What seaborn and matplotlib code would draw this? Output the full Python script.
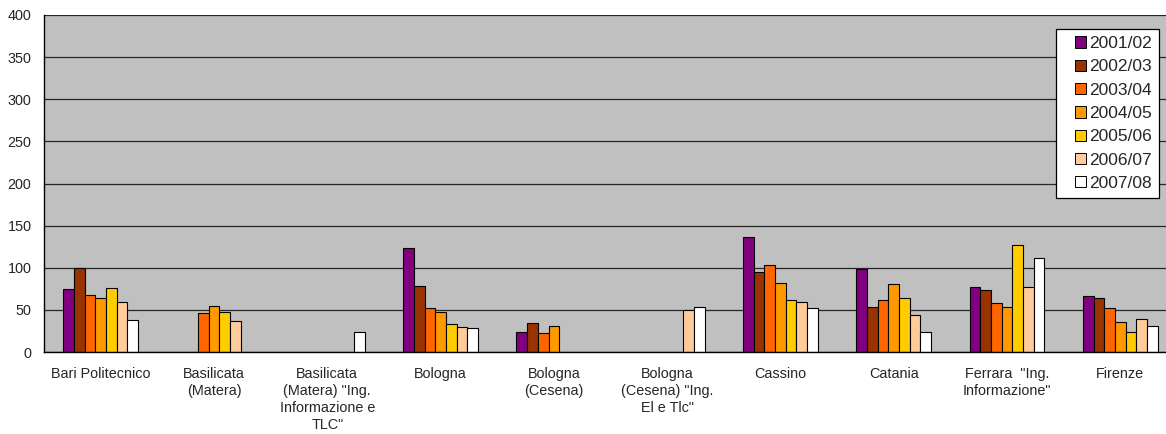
import numpy as np
import pandas as pd
import matplotlib
matplotlib.use("Agg")
import matplotlib.pyplot as plt
from matplotlib.patches import Rectangle, Patch
from matplotlib.legend_handler import HandlerPatch
import seaborn as sns

categories = [
    "Bari Politecnico",
    "Basilicata\n(Matera)",
    "Basilicata\n(Matera) \"Ing.\nInformazione e\nTLC\"",
    "Bologna",
    "Bologna\n(Cesena)",
    "Bologna\n(Cesena) \"Ing.\nEl e Tlc\"",
    "Cassino",
    "Catania",
    "Ferrara  \"Ing.\nInformazione\"",
    "Firenze",
]
years = ["2001/02", "2002/03", "2003/04", "2004/05", "2005/06", "2006/07", "2007/08"]
nan = np.nan
v_2001_02 = [75, nan, nan, 124, 24, nan, 137, 99, 77, 66]
v_2002_03 = [100, nan, nan, 78, 34, nan, 95, 54, 74, 64]
v_2003_04 = [68, 46, nan, 52, 23, nan, 103, 62, 58, 52]
v_2004_05 = [64, 55, nan, 47, 31, nan, 82, 81, 53, 36]
v_2005_06 = [76, 48, nan, 33, nan, nan, 62, 64, 127, 24]
v_2006_07 = [59, 37, nan, 30, nan, 50, 59, 44, 77, 39]
v_2007_08 = [38, nan, 24, 29, nan, 53, 52, 24, 111, 31]
series = [v_2001_02, v_2002_03, v_2003_04, v_2004_05, v_2005_06, v_2006_07, v_2007_08]
colors = ["#800080", "#993300", "#FF6600", "#FF9900", "#FFCC00", "#FFCC99", "#FFFFFF"]

rows = []
for y, vals in zip(years, series):
    for c, v in zip(categories, vals):
        rows.append({"cat": c, "year": y, "val": v})
df = pd.DataFrame(rows)

sns.set_style("white")
plt.rcParams["font.family"] = ["Liberation Sans", "DejaVu Sans"]

W, H = 1166, 434
fig = plt.figure(figsize=(W / 100, H / 100), dpi=100)
ax = fig.add_axes([44 / W, (H - 352) / H, 1133 / W, 337 / H])
ax.set_facecolor("#C0C0C0")

sns.barplot(data=df, x="cat", y="val", hue="year", order=categories, hue_order=years,
            palette=colors, width=0.66, edgecolor="black", linewidth=0.8,
            ax=ax, legend=False, saturation=1)

ax.set_xlim(-0.5, len(categories) - 0.5)
ax.set_ylim(0, 400)
ax.set_yticks(range(0, 401, 50))
ax.yaxis.grid(True, color="#262626", linewidth=0.9)
ax.set_axisbelow(True)
ax.set_xlabel("")
ax.set_ylabel("")
for s in ["top", "right"]:
    ax.spines[s].set_visible(False)
ax.spines["left"].set_color("black")
ax.spines["bottom"].set_color("black")
ax.spines["left"].set_linewidth(1.0)
ax.spines["bottom"].set_linewidth(1.0)

ax.set_xticks(range(len(categories)))
ax.set_xticklabels(categories, fontsize=10.4, linespacing=1.27, va="top")
ax.tick_params(axis="x", which="major", length=0, pad=11)
ax.set_xticks(np.arange(-0.5, len(categories), 1.0), minor=True)
ax.tick_params(axis="x", which="minor", length=5, width=1, color="black", direction="out")
ax.tick_params(axis="y", labelsize=10.4, length=0, pad=9)


def square_right(legend, orig_handle, xdescent, ydescent, width, height, fontsize):
    sq = 8.0
    return Rectangle((-xdescent + width - sq, -ydescent + (height - sq) / 2), sq, sq)


handles = [Patch(facecolor=c, edgecolor="black", linewidth=0.7) for c in colors]
leg = fig.legend(handles, years, loc="upper right", bbox_to_anchor=(1159 / W, 1 - 29 / H),
                 frameon=True, fancybox=False, shadow=False, fontsize=12.5,
                 handlelength=1.3, handleheight=0.7, handletextpad=0.2,
                 labelspacing=0.47, borderpad=0.4, borderaxespad=0,
                 handler_map={Patch: HandlerPatch(patch_func=square_right)})
leg.get_frame().set_edgecolor("black")
leg.get_frame().set_linewidth(0.9)
leg.get_frame().set_facecolor("white")
leg.get_frame().set_alpha(1)

fig.savefig("out.png", dpi=100)
